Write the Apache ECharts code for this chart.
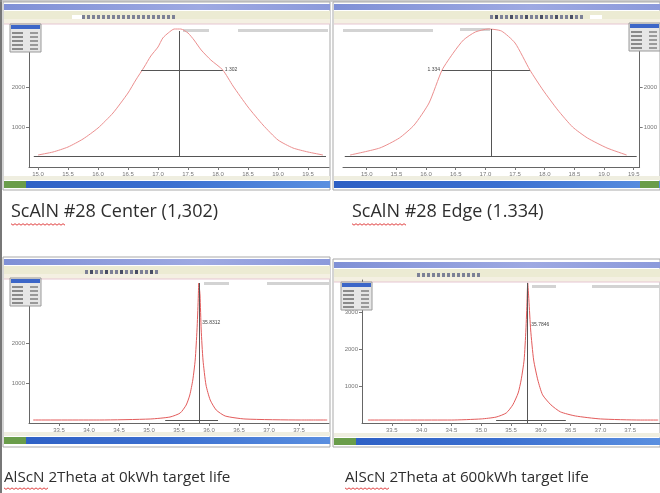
<!DOCTYPE html>
<html>
<head>
<meta charset="utf-8">
<script src="https://cdn.jsdelivr.net/npm/echarts@6/dist/echarts.min.js"></script>
<style>
  body { margin: 0; background: #fff; }
  #chart { width: 660px; height: 493px; }
</style>
</head>
<body>
<div id="chart"></div>
<script>
// tick values
const omegaTicks = [15.0, 15.5, 16.0, 16.5, 17.0, 17.5, 18.0, 18.5, 19.0, 19.5];
const twoThetaTicks = [33.5, 34.0, 34.5, 35.0, 35.5, 36.0, 36.5, 37.0, 37.5];

// ScAlN #28 center, [omega, counts]
const centerCurve = [
  [15.0, 300], [15.25, 375], [15.5, 500], [15.75, 700], [16.0, 975], [16.25, 1350],
  [16.5, 1850], [16.63, 2175], [16.77, 2500], [16.88, 2775], [17.0, 3000], [17.08, 3225],
  [17.17, 3350], [17.27, 3450], [17.38, 3450], [17.5, 3350], [17.6, 3175], [17.72, 2925],
  [17.88, 2675], [18.08, 2425], [18.25, 2025], [18.5, 1500], [18.75, 1050], [19.0, 675],
  [19.25, 475], [19.5, 375], [19.75, 300]
];
// ScAlN #28 edge
const edgeCurve = [
  [14.72, 300], [15.22, 475], [15.55, 725], [15.8, 1050], [16.05, 1600], [16.27, 2425],
  [16.47, 2875], [16.63, 3175], [16.83, 3375], [17.05, 3450], [17.27, 3400], [17.5, 3100],
  [17.75, 2425], [17.97, 1925], [18.22, 1425], [18.47, 1000], [18.72, 725], [19.05, 475],
  [19.38, 300]
];
// AlScN 2theta, 0 kWh
const fresh2Theta = [
  [33.07, 75], [34.18, 75], [35.02, 100], [35.35, 150], [35.52, 250], [35.62, 450],
  [35.68, 700], [35.73, 1075], [35.77, 1575], [35.8, 2325], [35.82, 3075], [35.83, 3500],
  [35.85, 3200], [35.87, 2325], [35.9, 1575], [35.95, 950], [36.02, 575], [36.12, 325],
  [36.27, 175], [36.6, 100], [37.52, 75], [37.97, 75]
];
// AlScN 2theta, 600 kWh
const used2Theta = [
  [33.1, 80], [34.5, 80], [35.0, 110], [35.25, 160], [35.42, 270], [35.53, 490],
  [35.62, 810], [35.67, 1160], [35.72, 1700], [35.75, 2510], [35.77, 3320], [35.78, 3780],
  [35.8, 3320], [35.83, 2510], [35.88, 1700], [35.95, 1160], [36.03, 760], [36.17, 490],
  [36.33, 300], [36.58, 190], [37.0, 110], [37.67, 80], [37.97, 80]
];

// peak marker, FWHM and background per panel
const peakPos = [17.35, 17.1, 35.83, 35.78];
const peakTop = [3400, 3450, 3500, 3780];
const peakLabelLevel = [3450, 3450, 2500, 2650];
const baseLevel = [275, 275, 75, 80];
const bgStart = [14.93, 14.63, 35.27, 35.25];
const bgEnd = [19.8, 19.55, 36.15, 36.42];
const fwhmLevel = [2425, 2425];
const fwhmLeft = [16.72, 16.27];
const fwhmRight = [18.08, 17.75];
const fwhmText = ['1.302', '1.334'];
const peakText = ['17.352', '17.105', '35.8312', '35.7846'];

const captions = [
  'ScAlN #28 Center (1,302)',
  'ScAlN #28 Edge (1.334)',
  'AlScN 2Theta at 0kWh target life',
  'AlScN 2Theta at 600kWh target life'
];

const chart = echarts.init(document.getElementById('chart'));

const grids = [
  { left: 29, top: 27, width: 300, height: 140 },
  { left: 343, top: 27, width: 300, height: 140 },
  { left: 29, top: 280, width: 300, height: 143 },
  { left: 362, top: 280, width: 300, height: 143 }
];
const xRange = [[14.85, 19.85], [14.6, 19.6], [33.0, 38.0], [33.0, 38.0]];
const yMax = [3500, 3500, 3575, 3860];
const curves = [centerCurve, edgeCurve, fresh2Theta, used2Theta];

function xAxisFor(i) {
  const ticks = i < 2 ? omegaTicks : twoThetaTicks;
  return {
    type: 'value', gridIndex: i, min: xRange[i][0], max: xRange[i][1],
    axisLine: { lineStyle: { color: '#666', width: 1 } },
    axisTick: { customValues: ticks, length: 3, lineStyle: { color: '#777' } },
    axisLabel: { customValues: ticks, fontSize: 6, color: '#777', margin: 4,
      formatter: v => v.toFixed(1) },
    splitLine: { show: false }
  };
}
function yAxisFor(i) {
  return {
    type: 'value', gridIndex: i, min: 0, max: yMax[i], interval: 1000,
    position: i === 1 ? 'right' : 'left',
    axisLine: { show: true, lineStyle: { color: '#666', width: 1 } },
    axisTick: { show: true, length: 3, lineStyle: { color: '#777' } },
    axisLabel: { fontSize: 6, color: '#777', margin: 4, showMinLabel: false, showMaxLabel: false,
      formatter: v => String(v) },
    splitLine: { show: false }
  };
}

function seriesFor(i) {
  const lines = [
    [{ coord: [bgStart[i], baseLevel[i]] }, { coord: [bgEnd[i], baseLevel[i]] }],
    [{ coord: [peakPos[i], i < 2 ? baseLevel[i] : 0] }, { coord: [peakPos[i], peakTop[i]] }]
  ];
  if (i < 2) {
    lines.push([
      { coord: [fwhmLeft[i], fwhmLevel[i]] },
      { coord: [fwhmRight[i], fwhmLevel[i]],
        label: { show: true, position: i === 0 ? 'end' : 'start', distance: 2,
          formatter: fwhmText[i] } }
    ]);
  }
  return {
    type: 'line', xAxisIndex: i, yAxisIndex: i, data: curves[i],
    symbol: 'none', smooth: 0.2,
    lineStyle: { color: i < 2 ? '#ec8f8f' : '#e35b5b', width: 1 },
    markLine: {
      silent: true, symbol: 'none', animation: false,
      lineStyle: { color: '#555', width: 1, type: 'solid' },
      label: { show: false, fontSize: 5, color: '#444' },
      data: lines
    },
    markPoint: {
      silent: true, symbol: 'circle', symbolSize: 1, animation: false,
      itemStyle: { color: 'rgba(0,0,0,0)' },
      label: { show: i >= 2, position: 'right', distance: 3, fontSize: 5, color: '#444',
        formatter: peakText[i] },
      data: [{ coord: [peakPos[i], peakLabelLevel[i]] }]
    }
  };
}

// ---- window chrome (decoration only) ----
const deco = [];
function icons(x0, x1, y) {
  for (let x = x0; x < x1; x += 5) {
    deco.push({ type: 'rect', z: -5, shape: { x: x, y: y, width: 3, height: 4 },
      style: { fill: (x / 5) % 3 === 0 ? '#4a4f66' : '#7c8096' } });
  }
}
function windowFrame(x0, y0, x1, y1, t, st, greenLeft) {
  deco.push({ type: 'rect', z: -6, shape: { x: x0, y: y0, width: x1 - x0, height: y1 - y0 },
    style: { fill: '#fff', stroke: '#a9a9a9', lineWidth: 1 } });
  deco.push({ type: 'rect', z: -5, shape: { x: x0 + 1, y: t, width: x1 - x0 - 1, height: 6 },
    style: { fill: new echarts.graphic.LinearGradient(0, 0, 1, 0,
      [{ offset: 0, color: '#7f90d6' }, { offset: 0.6, color: '#9ea9e2' }, { offset: 1, color: '#8c9adb' }]) } });
  deco.push({ type: 'rect', z: -5, shape: { x: x0 + 1, y: t + 7, width: x1 - x0 - 1, height: 8 },
    style: { fill: '#ecebd3' } });
  deco.push({ type: 'rect', z: -5, shape: { x: x0 + 1, y: t + 15, width: x1 - x0 - 1, height: 5 },
    style: { fill: '#f4f0e2' } });
  deco.push({ type: 'line', z: -5, shape: { x1: x0 + 1, y1: t + 20, x2: x1, y2: t + 20 },
    style: { stroke: '#e6c6d2', lineWidth: 1 } });
  deco.push({ type: 'rect', z: -5, shape: { x: x0 + 1, y: st - 5, width: x1 - x0 - 1, height: 4 },
    style: { fill: '#efeee0' } });
  deco.push({ type: 'rect', z: -5, shape: { x: x0 + 1, y: st, width: x1 - x0 - 1, height: 7 },
    style: { fill: new echarts.graphic.LinearGradient(0, 0, 1, 0,
      [{ offset: 0, color: '#2d5fc4' }, { offset: 0.5, color: '#3b6fd0' }, { offset: 1, color: '#5a8fe0' }]) } });
  deco.push({ type: 'rect', z: -4, shape: { x: greenLeft ? x0 + 1 : x1 - 20, y: st, width: greenLeft ? 22 : 19, height: 7 },
    style: { fill: '#6a9d4a' } });
}
function miniPanel(x, y) {
  deco.push({ type: 'rect', z: 50, shape: { x: x, y: y, width: 31, height: 28 },
    style: { fill: '#e6e6e6', stroke: '#9a9a9a', lineWidth: 1 } });
  deco.push({ type: 'rect', z: 51, shape: { x: x + 1, y: y + 1, width: 29, height: 4 },
    style: { fill: '#3c66c8' } });
  for (let r = 0; r < 5; r++) {
    deco.push({ type: 'rect', z: 51, shape: { x: x + 2, y: y + 8 + r * 4, width: 11, height: 2 },
      style: { fill: '#8a8a8a' } });
    deco.push({ type: 'rect', z: 51, shape: { x: x + 20, y: y + 8 + r * 4, width: 8, height: 2 },
      style: { fill: '#9a9a9a' } });
  }
}
function strip(x, y, w) {
  deco.push({ type: 'rect', z: -3, shape: { x: x, y: y, width: w, height: 3 },
    style: { fill: '#d3d3d3' } });
}

// outer border of the document page
deco.push({ type: 'line', z: -7, shape: { x1: 1, y1: 0, x2: 1, y2: 493 }, style: { stroke: '#777', lineWidth: 2 } });
deco.push({ type: 'line', z: -7, shape: { x1: 0, y1: 1, x2: 660, y2: 1 }, style: { stroke: '#999', lineWidth: 1 } });

windowFrame(3, 2, 330, 190, 4, 181, true);
windowFrame(333, 2, 660, 190, 4, 181, false);
windowFrame(3, 257, 330, 447, 259, 437, true);
windowFrame(333, 259, 660, 447, 262, 438, true);

icons(82, 173, 15); icons(490, 583, 15); icons(85, 157, 270); icons(417, 480, 273);
deco.push({ type: 'rect', z: -4, shape: { x: 72, y: 15, width: 10, height: 4 }, style: { fill: '#fff' } });
deco.push({ type: 'rect', z: -4, shape: { x: 590, y: 15, width: 12, height: 4 }, style: { fill: '#fff' } });

miniPanel(10, 24); miniPanel(629, 23); miniPanel(10, 278); miniPanel(341, 282);
strip(238, 29, 90); strip(343, 29, 90); strip(267, 282, 62); strip(592, 285, 68);
strip(183, 29, 26); strip(460, 28, 30); strip(204, 282, 25); strip(532, 285, 24);

// captions with spell-check squiggle
const capPos = [[11, 212], [352, 212], [4, 478], [345, 478]];
const capSize = [18, 18, 15.2, 15.2];
const squiggleW = [54, 54, 45, 45];
captions.forEach((c, i) => {
  deco.push({ type: 'text', z: 10, x: capPos[i][0], y: capPos[i][1],
    style: { text: c, fontFamily: 'Open Sans', fontSize: capSize[i], fill: '#2e2e2e',
      textVerticalAlign: 'middle' } });
  const pts = [];
  for (let k = 0; k <= squiggleW[i]; k += 2) pts.push([capPos[i][0] + k, capPos[i][1] + capSize[i] * 0.65 + (k % 4 === 0 ? 0 : 1.5)]);
  deco.push({ type: 'polyline', z: 10, shape: { points: pts }, style: { stroke: '#e04040', lineWidth: 1, fill: null } });
});

chart.setOption({
  animation: false,
  grid: grids,
  xAxis: [0, 1, 2, 3].map(xAxisFor),
  yAxis: [0, 1, 2, 3].map(yAxisFor),
  series: [0, 1, 2, 3].map(seriesFor),
  graphic: { elements: deco }
});
</script>
</body>
</html>
